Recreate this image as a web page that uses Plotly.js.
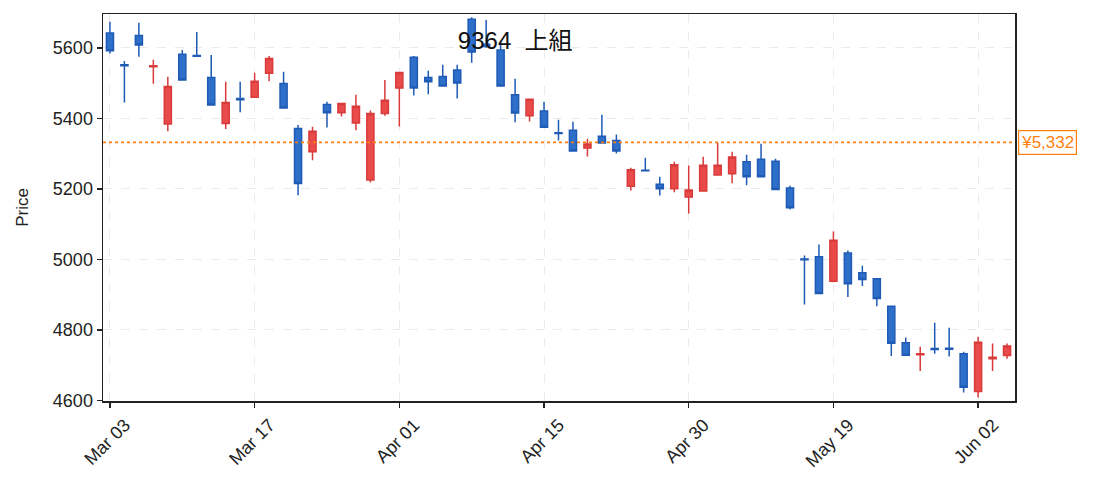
<!DOCTYPE html>
<html>
<head>
<meta charset="utf-8">
<script src="https://cdn.plot.ly/plotly-3.0.1.min.js"></script>
<style>
  html, body { margin: 0; padding: 0; background: #fff; }
  #chart { width: 1093px; height: 491px; }
</style>
</head>
<body>
<div id="chart"></div>
<script>
// daily prices, 9364 (trading days only)
const dates = [
  '2025-03-03','2025-03-04','2025-03-05','2025-03-06','2025-03-07',
  '2025-03-10','2025-03-11','2025-03-12','2025-03-13','2025-03-14',
  '2025-03-17','2025-03-18','2025-03-19','2025-03-21','2025-03-24',
  '2025-03-25','2025-03-26','2025-03-27','2025-03-28','2025-03-31',
  '2025-04-01','2025-04-02','2025-04-03','2025-04-04','2025-04-07',
  '2025-04-08','2025-04-09','2025-04-10','2025-04-11','2025-04-14',
  '2025-04-15','2025-04-16','2025-04-17','2025-04-18','2025-04-21',
  '2025-04-22','2025-04-23','2025-04-24','2025-04-25','2025-04-28',
  '2025-04-30','2025-05-01','2025-05-02','2025-05-07','2025-05-08',
  '2025-05-09','2025-05-12','2025-05-13','2025-05-14','2025-05-15',
  '2025-05-19','2025-05-20','2025-05-21','2025-05-22','2025-05-23',
  '2025-05-26','2025-05-27','2025-05-28','2025-05-29','2025-05-30',
  '2025-06-02','2025-06-03','2025-06-04'
];
const opens = [
  5642, 5552, 5635, 5546, 5384, 5582, 5578, 5516, 5385, 5456,
  5460, 5528, 5499, 5371, 5305, 5439, 5416, 5387, 5225, 5414,
  5486, 5573, 5516, 5519, 5537, 5681, 5610, 5594, 5467, 5407,
  5421, 5359, 5366, 5316, 5349, 5337, 5207, 5253, 5213, 5200,
  5177, 5194, 5239, 5243, 5277, 5284, 5278, 5202, 5001, 5007,
  4938, 5018, 4962, 4945, 4867, 4763, 4729, 4747, 4748, 4732,
  4625, 4718, 4727
];
const highs = [
  5674, 5563, 5671, 5566, 5518, 5594, 5645, 5580, 5504, 5504,
  5529, 5577, 5532, 5381, 5376, 5447, 5443, 5467, 5422, 5509,
  5531, 5577, 5535, 5552, 5552, 5687, 5679, 5617, 5512, 5455,
  5447, 5396, 5390, 5342, 5410, 5354, 5260, 5288, 5234, 5277,
  5266, 5291, 5331, 5305, 5297, 5328, 5285, 5209, 5011, 5042,
  5079, 5025, 4982, 4947, 4869, 4778, 4752, 4820, 4806, 4738,
  4780, 4761, 4761
];
const lows = [
  5584, 5445, 5575, 5498, 5363, 5507, 5575, 5436, 5370, 5417,
  5458, 5505, 5428, 5182, 5281, 5374, 5405, 5366, 5218, 5407,
  5377, 5465, 5468, 5490, 5456, 5558, 5600, 5490, 5389, 5391,
  5373, 5337, 5305, 5292, 5328, 5300, 5195, 5250, 5181, 5190,
  5130, 5192, 5237, 5216, 5210, 5232, 5196, 5141, 4872, 4901,
  4935, 4893, 4924, 4867, 4726, 4726, 4683, 4732, 4724, 4622,
  4608, 4683, 4718
];
const closes = [
  5592, 5549, 5608, 5549, 5490, 5509, 5576, 5438, 5445, 5453,
  5505, 5570, 5429, 5215, 5363, 5416, 5442, 5434, 5414, 5451,
  5530, 5486, 5504, 5492, 5500, 5588, 5604, 5492, 5415, 5454,
  5375, 5357, 5307, 5327, 5330, 5307, 5254, 5251, 5200, 5268,
  5197, 5267, 5267, 5290, 5234, 5234, 5198, 5146, 4999, 4903,
  5054, 4931, 4943, 4889, 4762, 4728, 4732, 4744, 4745, 4637,
  4765, 4722, 4754
];
const refPrice = 5332;
const tickDates = ['2025-03-03','2025-03-17','2025-04-01','2025-04-15','2025-04-30','2025-05-19','2025-06-02'];
const tickLabels = ['Mar 03','Mar 17','Apr 01','Apr 15','Apr 30','May 19','Jun 02'];
const yTicks = [4600, 4800, 5000, 5200, 5400, 5600];

const FONT = '"Liberation Sans", "Noto Sans CJK JP", sans-serif';
const ORANGE = '#ff7f0e';

const candles = {
  type: 'candlestick',
  x: dates,
  open: opens,
  high: highs,
  low: lows,
  close: closes,
  increasing: { line: { color: '#d93a3a', width: 1.5 }, fillcolor: '#e94b4b' },
  decreasing: { line: { color: '#1f5bb5', width: 1.5 }, fillcolor: '#2e70c9' },
  whiskerwidth: 0,
  hoverinfo: 'skip',
  showlegend: false
};

const axisCommon = {
  showline: true,
  linecolor: '#222',
  linewidth: 1.5,
  mirror: true,
  ticks: 'outside',
  ticklen: 5,
  tickwidth: 1.5,
  tickcolor: '#222',
  showgrid: true,
  gridcolor: '#ebebeb',
  gridwidth: 1,
  griddash: 'dash',
  zeroline: false,
  tickfont: { family: FONT, size: 18, color: '#222' }
};

const layout = {
  width: 1093,
  height: 491,
  margin: { l: 103, r: 78, t: 14, b: 90 },
  paper_bgcolor: '#fff',
  plot_bgcolor: '#fff',
  font: { family: FONT, color: '#222' },
  title: {
    text: '9364\u00a0\u00a0上組',
    font: { family: FONT, size: 24, color: '#111' },
    xref: 'paper', x: 0.452, xanchor: 'center',
    yref: 'container', y: 0.918, yanchor: 'middle'
  },
  xaxis: Object.assign({}, axisCommon, {
    type: 'category',
    range: [-0.48, 62.55],
    tickvals: tickDates,
    ticktext: tickLabels,
    tickangle: -45,
    ticklabelshift: 15,
    rangeslider: { visible: false }
  }),
  yaxis: Object.assign({}, axisCommon, {
    range: [4598, 5696],
    tickvals: yTicks,
    ticktext: yTicks.map(String),
    title: { text: 'Price', font: { family: FONT, size: 17, color: '#222' }, standoff: 20 }
  }),
  shapes: [{
    type: 'line', xref: 'paper', x0: 0, x1: 1, yref: 'y', y0: refPrice, y1: refPrice,
    line: { color: ORANGE, width: 1.8, dash: 'dot' }
  }],
  annotations: [{
    xref: 'paper', x: 1, xanchor: 'left', xshift: 3,
    yref: 'y', y: refPrice, yanchor: 'middle',
    text: '¥' + refPrice.toLocaleString('en-US'),
    showarrow: false,
    font: { family: FONT, size: 17, color: ORANGE },
    bgcolor: '#fff',
    bordercolor: ORANGE,
    borderwidth: 1.2,
    borderpad: 2
  }]
};

Plotly.newPlot('chart', [candles], layout, { staticPlot: true, displayModeBar: false });
</script>
</body>
</html>
